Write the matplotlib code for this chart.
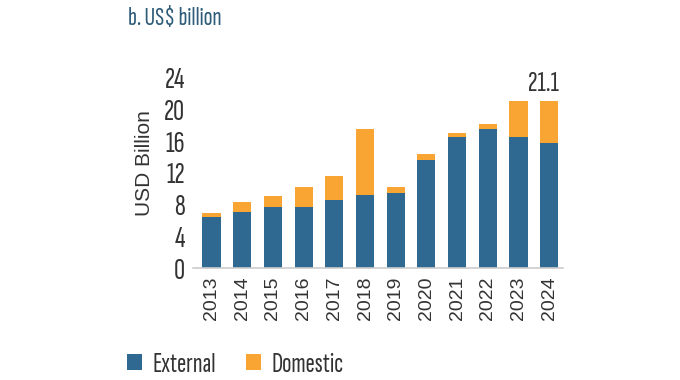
import matplotlib
matplotlib.use("Agg")
import matplotlib.pyplot as plt

cond = ['Sofia Sans Extra Condensed', 'Saira ExtraCondensed', 'Barlow Condensed', 'DejaVu Sans']
plain = ['Liberation Sans', 'DejaVu Sans']
plt.rcParams['font.family'] = cond
plt.rcParams['font.weight'] = 500

years = ["2013", "2014", "2015", "2016", "2017", "2018", "2019", "2020", "2021", "2022", "2023", "2024"]
external = [6.5, 7.1, 7.7, 7.7, 8.6, 9.2, 9.5, 13.6, 16.5, 17.5, 16.5, 15.7]
domestic = [0.4, 1.2, 1.4, 2.5, 3.0, 8.3, 0.7, 0.8, 0.5, 0.6, 4.6, 5.4]
total_label = "21.1"

blue = "#2f6890"
orange = "#f8a534"
text_col = "#333333"

fig = plt.figure(figsize=(6.8, 3.8), dpi=100)
ax = fig.add_axes([0.284, 0.294, 0.544, 0.502])

x = list(range(len(years)))
b1 = ax.bar(x, external, width=0.59, color=blue, label="External")
b2 = ax.bar(x, domestic, width=0.59, bottom=external, color=orange, label="Domestic")

# label on top of last bar
ax.text(x[-1] - 0.2, external[-1] + domestic[-1] + 0.6, total_label, ha="center", va="bottom",
        fontsize=21, color=text_col)

ax.set_xlim(-0.6, 11.45)
ax.set_ylim(0, 24)
ax.set_yticks(range(0, 25, 4))
ax.set_xticks(x)
ax.set_xticklabels(years, rotation=90, fontsize=14, color=text_col, family=plain, weight="normal")
ax.tick_params(axis="y", labelsize=22, colors=text_col, length=0, pad=6)
ax.tick_params(axis="x", length=0, pad=6)

for s in ["top", "right", "left"]:
    ax.spines[s].set_visible(False)
ax.spines["bottom"].set_color("#cccccc")
ax.spines["bottom"].set_linewidth(1.2)

ax.set_ylabel("USD Billion", fontsize=15, color=text_col, family=plain, weight="normal")
ax.yaxis.set_label_coords(-0.105, 0.55)

fig.text(0.188, 0.952, "b. US$ billion", fontsize=19, color="#2d5b78", ha="left", va="center")

fig.legend(handles=[b1, b2], loc="center left", bbox_to_anchor=(0.15, 0.04), ncol=2,
           frameon=False, fontsize=20, handlelength=0.55, handleheight=0.55,
           handletextpad=0.35, columnspacing=1.1, labelcolor=text_col)

fig.savefig("out.png", dpi=100)
